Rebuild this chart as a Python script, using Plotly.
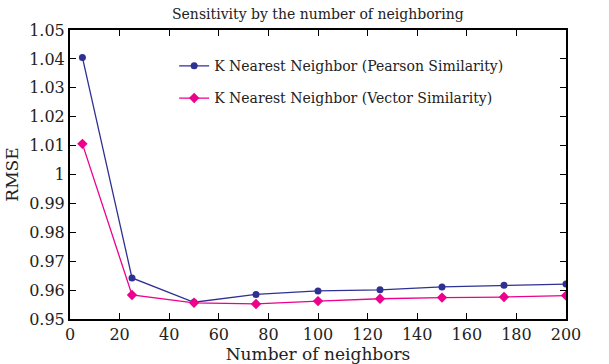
import plotly.graph_objects as go

# Number of neighbors (k) evaluated
neighbors = [5, 25, 50, 75, 100, 125, 150, 175, 200]

# RMSE for each similarity measure
rmse_pearson = [1.0405, 0.9642, 0.9558, 0.9585, 0.9597, 0.9601, 0.9611, 0.9617, 0.9621]
rmse_vector = [1.0106, 0.9583, 0.9556, 0.9552, 0.9562, 0.9570, 0.9574, 0.9576, 0.9581]

x_ticks = list(range(0, 201, 20))
y_ticks = [0.95, 0.96, 0.97, 0.98, 0.99, 1.00, 1.01, 1.02, 1.03, 1.04, 1.05]
y_labels = ["0.95", "0.96", "0.97", "0.98", "0.99", "1", "1.01", "1.02", "1.03", "1.04", "1.05"]

FONT = "'DejaVu Serif', serif"
BLUE = "#2E3192"
PINK = "#EC008C"
TEXT = "#222222"

fig = go.Figure()
fig.add_trace(go.Scatter(
    x=neighbors, y=rmse_pearson, mode="lines+markers",
    name="K Nearest Neighbor (Pearson Similarity)",
    line=dict(color=BLUE, width=1.3),
    marker=dict(symbol="circle", size=7, color=BLUE),
    legendgroup="a",
))
fig.add_trace(go.Scatter(
    x=neighbors, y=rmse_vector, mode="lines+markers",
    name="K Nearest Neighbor (Vector Similarity)",
    line=dict(color=PINK, width=1.3),
    marker=dict(symbol="diamond", size=8, color=PINK),
    legendgroup="b",
))

axis_common = dict(
    showline=True, linecolor="black", linewidth=2, mirror="ticks",
    ticks="inside", ticklen=6, tickcolor="black", tickwidth=1,
    showgrid=False, zeroline=False, automargin=False,
    tickfont=dict(family=FONT, size=16, color=TEXT),
)

fig.update_layout(
    width=609, height=364,
    margin=dict(l=70, r=43, t=30, b=45),
    paper_bgcolor="white", plot_bgcolor="white",
    font=dict(family=FONT, color=TEXT),
    title=dict(text="Sensitivity by the number of neighboring",
               x=0.522, xanchor="center", y=0.962, yanchor="middle",
               font=dict(family=FONT, size=14, color=TEXT)),
    xaxis=dict(range=[0, 200], tickvals=x_ticks,
               title=dict(text="Number of neighbors", standoff=0,
                          font=dict(family=FONT, size=17, color=TEXT)),
               **axis_common),
    yaxis=dict(range=[0.95, 1.05], tickvals=y_ticks, ticktext=y_labels,
               title=dict(text="RMSE", standoff=6,
                          font=dict(family=FONT, size=17, color=TEXT)),
               **axis_common),
    legend=dict(x=0.21, y=0.93, xanchor="left", yanchor="top",
                bgcolor="rgba(0,0,0,0)", tracegroupgap=11,
                font=dict(family=FONT, size=14, color=TEXT)),
    showlegend=True,
)

fig.write_html("out.html")
